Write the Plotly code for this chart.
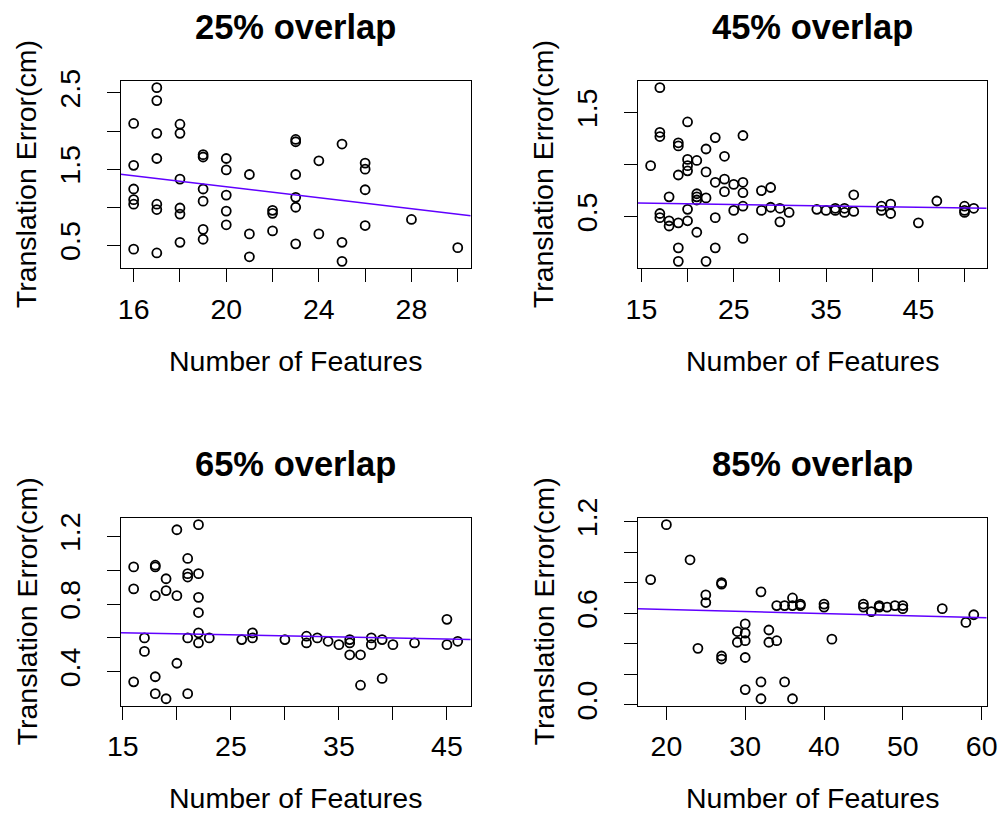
import numpy as np
import plotly.graph_objects as go

# ---- data: number of features vs. translation error (cm) ----
titles = ["25% overlap", "45% overlap", "65% overlap", "85% overlap"]

x25 = [16, 16, 16, 16, 16, 16,
       17, 17, 17, 17, 17, 17, 17,
       18, 18, 18, 18, 18, 18,
       19, 19, 19, 19, 19, 19,
       20, 20, 20, 20, 20,
       21, 21, 21,
       22, 22, 22,
       23, 23, 23, 23, 23, 23,
       24, 24,
       25, 25, 25,
       26, 26, 26, 26,
       28, 30]
y25 = [2.10, 1.55, 1.24, 1.10, 1.04, 0.45,
       2.57, 2.40, 1.97, 1.64, 1.04, 0.97, 0.40,
       2.09, 1.97, 1.37, 0.99, 0.91, 0.54,
       1.69, 1.66, 1.24, 1.08, 0.71, 0.58,
       1.64, 1.49, 1.16, 0.95, 0.77,
       1.43, 0.65, 0.35,
       0.96, 0.92, 0.69,
       1.89, 1.86, 1.43, 1.13, 1.00, 0.52,
       1.61, 0.65,
       1.83, 0.54, 0.29,
       1.58, 1.50, 1.23, 0.76,
       0.84, 0.47]

x45 = [16,
       17, 17, 17, 17, 17,
       18, 18, 18,
       19, 19, 19, 19, 19, 19,
       20, 20, 20, 20, 20, 20,
       21, 21, 21, 21, 21,
       22, 22, 22, 22,
       23, 23, 23, 23,
       24, 24, 24,
       25, 25,
       26, 26, 26, 26, 26,
       28, 28, 29, 29, 30, 30, 31,
       34, 35, 36, 36, 37, 37, 38, 38,
       41, 41, 42, 42, 45, 47,
       50, 50, 50, 51]
y45 = [0.99,
       1.74, 1.31, 1.27, 0.53, 0.49,
       0.69, 0.46, 0.41,
       1.21, 1.18, 0.90, 0.44, 0.20, 0.07,
       1.41, 1.05, 0.99, 0.94, 0.57, 0.46,
       1.04, 0.72, 0.69, 0.66, 0.35,
       1.15, 0.93, 0.68, 0.07,
       1.26, 0.83, 0.49, 0.20,
       1.08, 0.86, 0.74,
       0.81, 0.56,
       1.28, 0.83, 0.73, 0.60, 0.29,
       0.75, 0.56, 0.78, 0.59, 0.58, 0.45, 0.54,
       0.57, 0.56, 0.58, 0.56, 0.58, 0.54, 0.71, 0.55,
       0.60, 0.56, 0.62, 0.53, 0.44, 0.65,
       0.60, 0.56, 0.54, 0.58]

x65 = [16, 16, 16,
       17, 17,
       18, 18, 18, 18, 18,
       19, 19, 19,
       20, 20, 20,
       21, 21, 21, 21, 21,
       22, 22, 22, 22, 22, 22,
       23, 26, 27, 27, 30,
       32, 32, 33, 34, 35,
       36, 36, 36, 37, 37,
       38, 38, 39, 39, 40, 42,
       45, 45, 46]
y65 = [1.02, 0.89, 0.34,
       0.60, 0.52,
       1.03, 1.02, 0.85, 0.37, 0.27,
       0.95, 0.88, 0.24,
       1.24, 0.85, 0.45,
       1.07, 0.98, 0.96, 0.60, 0.27,
       1.27, 0.98, 0.84, 0.75, 0.63, 0.57,
       0.60, 0.59, 0.63, 0.60, 0.59,
       0.61, 0.57, 0.60, 0.58, 0.56,
       0.59, 0.57, 0.50, 0.50, 0.32,
       0.60, 0.56, 0.59, 0.36, 0.56, 0.57,
       0.71, 0.56, 0.58]

x85 = [18, 20, 23, 24,
       25, 25,
       27, 27, 27, 27,
       29, 29,
       30, 30, 30, 30, 30,
       32, 32, 32,
       33, 33, 34, 34, 35, 35,
       36, 36, 36, 37, 37,
       40, 40, 41, 45, 45, 46,
       47, 47, 48, 49, 50, 50,
       55, 58, 59]
y85 = [0.82, 1.18, 0.95, 0.37,
       0.72, 0.67,
       0.80, 0.79, 0.32, 0.30,
       0.48, 0.41,
       0.53, 0.47, 0.42, 0.31, 0.10,
       0.74, 0.15, 0.04,
       0.49, 0.41, 0.65, 0.42, 0.65, 0.15,
       0.70, 0.65, 0.04, 0.66, 0.65,
       0.66, 0.64, 0.43, 0.66, 0.64, 0.61,
       0.65, 0.64, 0.64, 0.65, 0.65, 0.63,
       0.63, 0.54, 0.59]

# trend line for each panel: intercept and slope
fit_intercept = [1.991, 0.6506, 0.6496, 0.652]
fit_slope = [-0.03612, -0.001347, -0.001262, -0.001352]

xs = [x25, x45, x65, x85]
ys = [y25, y45, y65, y85]

x_tickvals = [list(range(16, 31, 2)), list(range(15, 51, 5)),
              list(range(15, 46, 5)), list(range(20, 61, 10))]
x_ticktext = [["16", "", "20", "", "24", "", "28", ""],
              ["15", "", "25", "", "35", "", "45", ""],
              ["15", "", "25", "", "35", "", "45"],
              ["20", "30", "40", "50", "60"]]
y_tickvals = [[0.5, 1.0, 1.5, 2.0, 2.5], [0.5, 1.0, 1.5],
              [0.4, 0.6, 0.8, 1.0, 1.2], [0.0, 0.2, 0.4, 0.6, 0.8, 1.0, 1.2]]
y_ticktext = [["0.5", "", "1.5", "", "2.5"], ["0.5", "", "1.5"],
              ["0.4", "", "0.8", "", "1.2"], ["0.0", "", "", "0.6", "", "", "1.2"]]

# ---- page geometry (pixels) ----
W, H = 1001, 813
boxes = [(120.7, 470.7, 80.7, 268.3), (637.7, 986.7, 80.7, 268.3),
         (120.7, 470.7, 517.7, 705.7), (637.7, 986.7, 517.7, 705.7)]

FONT = "Liberation Sans, Arial, Helvetica, sans-serif"
FS = 28.5
LINE_COL = "#6000ff"


def px_x(p):
    return p / W


def px_y(p):
    return 1 - p / H


def padded(v):
    lo, hi = min(v), max(v)
    d = (hi - lo) * 0.04
    return [lo - d, hi + d]


fig = go.Figure()
annotations = []

for i in range(4):
    n = "" if i == 0 else str(i + 1)
    xa, ya = "x" + n, "y" + n
    x0, x1, y0, y1 = boxes[i]
    xr = padded(xs[i])
    yr = padded(ys[i])

    fig.add_trace(go.Scatter(
        x=xs[i], y=ys[i], mode="markers", xaxis=xa, yaxis=ya,
        marker=dict(symbol="circle-open", size=9, color="black",
                    line=dict(width=1.8, color="black")),
        showlegend=False, hoverinfo="x+y"))

    # trend line across the full plotting region
    lx = np.array(xr)
    fig.add_trace(go.Scatter(
        x=lx, y=fit_intercept[i] + fit_slope[i] * lx, mode="lines",
        xaxis=xa, yaxis=ya, line=dict(color=LINE_COL, width=1.5),
        showlegend=False, hoverinfo="skip"))

    axis_common = dict(showgrid=False, zeroline=False, showline=True,
                       mirror=True, linecolor="black", linewidth=1,
                       ticks="outside", ticklen=13, tickwidth=1,
                       tickcolor="black", automargin=False,
                       tickfont=dict(family=FONT, size=FS, color="black"))
    fig.layout["xaxis" + n] = dict(
        axis_common, domain=[px_x(x0), px_x(x1)], range=xr,
        anchor=ya, tickmode="array", tickvals=x_tickvals[i],
        ticktext=x_ticktext[i], ticklabelstandoff=2)
    fig.layout["yaxis" + n] = dict(
        axis_common, domain=[px_y(y1), px_y(y0)], range=yr,
        anchor=xa, tickmode="array", tickvals=y_tickvals[i],
        ticktext=y_ticktext[i], tickangle=-90, ticklabelstandoff=15)

    cx = (x0 + x1) / 2
    cy = (y0 + y1) / 2
    dy = 0 if i < 2 else 437
    annotations.append(dict(
        text="<b>" + titles[i] + "</b>", x=px_x(cx), y=px_y(27 + dy),
        xref="paper", yref="paper", showarrow=False, xanchor="center",
        yanchor="middle", font=dict(family=FONT, size=34.5, color="black")))
    annotations.append(dict(
        text="Number of Features", x=px_x(cx), y=px_y(361 + dy),
        xref="paper", yref="paper", showarrow=False, xanchor="center",
        yanchor="middle", font=dict(family=FONT, size=FS, color="black")))
    annotations.append(dict(
        text="Translation Error(cm)", x=px_x(x0 - 94), y=px_y(cy),
        xref="paper", yref="paper", showarrow=False, xanchor="center",
        yanchor="middle", textangle=-90,
        font=dict(family=FONT, size=FS, color="black")))

fig.update_layout(
    width=W, height=H, autosize=False,
    margin=dict(l=0, r=0, t=0, b=0),
    paper_bgcolor="white", plot_bgcolor="white",
    annotations=annotations,
)

fig.write_html("out.html")
